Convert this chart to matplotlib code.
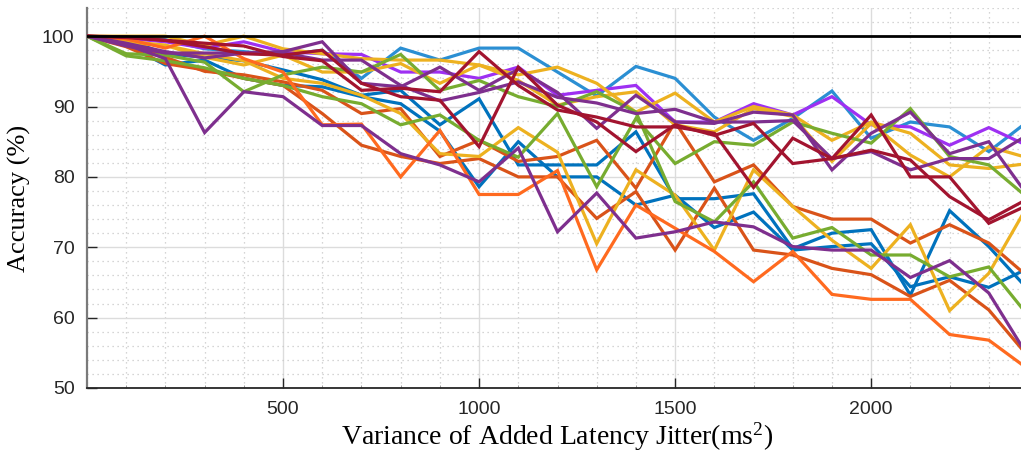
import matplotlib
matplotlib.use("Agg")
import matplotlib.pyplot as plt
from matplotlib.ticker import MultipleLocator

plt.rcParams["mathtext.fontset"] = "custom"
plt.rcParams["mathtext.rm"] = "Liberation Serif"
plt.rcParams["mathtext.it"] = "Liberation Serif:italic"

# Jitter variance levels (ms^2)
variance = list(range(0, 2401, 100))

# Accuracy (%) per run
light_blue = [100, 99.8, 99.5, 98.2, 97.8, 97.3, 98.0, 94.0, 98.3, 96.6, 98.3, 98.3, 94.9, 91.5, 95.7, 94.0, 88.5, 85.2, 88.3, 92.2, 85.5, 87.8, 87.1, 83.6, 87.9]
bright_purple = [100, 99.7, 99.2, 98.3, 99.2, 97.8, 97.5, 97.4, 94.9, 94.9, 94.0, 95.6, 91.6, 92.3, 93.0, 87.8, 87.8, 90.4, 88.8, 91.4, 87.4, 87.1, 84.5, 87.0, 84.4]
blue_a = [100, 99.5, 97.5, 97.0, 96.5, 95.2, 93.8, 91.6, 92.3, 87.4, 91.1, 81.7, 81.7, 81.7, 86.4, 76.9, 76.9, 77.6, 69.8, 72.0, 72.5, 63.2, 75.2, 70.1, 64.0]
blue_b = [100, 98.8, 95.9, 96.6, 94.0, 93.0, 92.8, 91.4, 90.4, 86.5, 78.6, 85.0, 80.0, 80.0, 76.0, 77.4, 72.8, 75.0, 69.6, 70.1, 70.5, 64.4, 65.8, 64.3, 67.0]
purple_a = [100, 98.8, 96.8, 86.3, 92.1, 91.4, 87.3, 87.3, 83.3, 81.7, 79.3, 84.1, 72.2, 77.7, 71.3, 72.2, 73.6, 72.9, 70.1, 69.6, 69.6, 65.7, 68.1, 63.5, 54.5]
purple_b = [100, 99.0, 97.8, 96.9, 97.6, 97.8, 99.2, 93.3, 92.8, 95.6, 92.3, 95.3, 92.0, 86.9, 91.6, 87.8, 87.6, 89.2, 88.8, 81.0, 86.2, 89.2, 83.3, 85.0, 77.3]
purple_c = [100, 98.6, 97.6, 97.6, 97.6, 97.6, 96.6, 96.6, 93.0, 90.8, 92.0, 93.5, 91.3, 90.5, 89.0, 89.6, 87.8, 87.8, 88.0, 82.6, 83.6, 81.0, 82.6, 82.6, 86.0]
darkred_a = [100, 99.8, 99.4, 99.0, 98.6, 97.1, 96.5, 92.3, 92.6, 92.1, 97.8, 93.0, 89.5, 88.5, 87.1, 87.1, 86.2, 78.5, 85.5, 82.6, 88.8, 80.0, 80.0, 73.4, 76.0]
darkred_b = [100, 99.9, 99.4, 98.5, 97.5, 97.3, 98.0, 93.3, 91.4, 90.9, 84.3, 95.6, 90.2, 87.8, 83.6, 87.4, 85.9, 87.6, 81.9, 82.6, 83.8, 82.4, 77.2, 73.9, 76.9]
green_a = [100, 97.2, 96.5, 95.5, 94.0, 93.0, 91.4, 90.4, 87.4, 88.8, 85.2, 82.8, 89.0, 78.6, 88.3, 81.9, 85.0, 84.5, 87.8, 86.2, 84.8, 89.7, 82.9, 81.7, 77.0]
green_b = [100, 97.5, 97.3, 96.3, 92.1, 94.5, 95.6, 94.9, 97.4, 92.3, 93.7, 91.4, 90.0, 92.1, 89.2, 76.5, 73.6, 79.3, 71.3, 72.8, 68.9, 68.9, 65.8, 67.2, 60.3]
yellow_a = [100, 99.3, 98.7, 97.5, 96.5, 94.0, 93.3, 91.6, 89.0, 83.3, 82.9, 87.0, 83.5, 70.5, 81.0, 77.4, 69.6, 81.0, 75.8, 71.0, 67.0, 73.2, 61.0, 66.3, 76.0]
yellow_b = [100, 100, 100, 98.7, 100, 98.2, 97.5, 96.8, 96.6, 96.6, 95.9, 94.5, 95.6, 93.3, 89.2, 91.9, 87.8, 90.0, 88.8, 85.2, 87.8, 86.2, 81.7, 81.2, 81.9]
yellow_c = [100, 99.0, 98.7, 97.0, 95.9, 97.3, 94.9, 94.9, 96.1, 93.3, 95.9, 93.7, 90.2, 91.4, 92.1, 87.4, 86.4, 89.7, 88.6, 82.2, 87.6, 83.1, 80.0, 84.3, 82.7]
orange_a = [100, 98.5, 96.1, 95.2, 94.0, 93.0, 89.0, 84.5, 82.9, 81.9, 82.6, 80.0, 80.0, 74.1, 77.9, 69.6, 78.4, 69.6, 68.9, 67.0, 66.1, 63.0, 65.3, 61.1, 54.5]
orange_b = [100, 99.0, 97.0, 95.0, 94.5, 93.5, 92.3, 89.0, 89.7, 82.9, 85.2, 82.2, 82.9, 85.2, 78.4, 87.8, 79.3, 81.7, 75.8, 74.0, 74.0, 70.6, 73.2, 70.6, 65.8]
bright_orange = [100, 99.6, 98.3, 100.0, 96.8, 94.9, 87.4, 87.5, 80.0, 86.6, 77.5, 77.5, 80.9, 66.8, 76.0, 72.7, 69.4, 65.1, 69.4, 63.3, 62.6, 62.6, 57.6, 56.8, 52.7]

runs = [
    (light_blue, "#2B8FD3"),
    (bright_purple, "#9E30F2"),
    (blue_a, "#0072BD"),
    (blue_b, "#0072BD"),
    (orange_a, "#D95319"),
    (orange_b, "#D95319"),
    (yellow_a, "#EDB120"),
    (yellow_b, "#EDB120"),
    (yellow_c, "#EDB120"),
    (green_a, "#77AC30"),
    (green_b, "#77AC30"),
    (bright_orange, "#FF6A1F"),
    (purple_a, "#7E2F8E"),
    (purple_b, "#7E2F8E"),
    (purple_c, "#7E2F8E"),
    (darkred_a, "#A2142F"),
    (darkred_b, "#A2142F"),
]

fig = plt.figure(figsize=(10.21, 4.58), dpi=100)
ax = fig.add_axes([87 / 1021, 70 / 458, 941 / 1021, 380 / 458])

for values, color in runs:
    ax.plot(variance, values, color=color, lw=2.3, solid_joinstyle="miter", zorder=3)

ax.axhline(100, color="black", lw=2.0, zorder=4)

ax.set_xlim(0, 2400)
ax.set_ylim(50, 104)
ax.set_xticks([500, 1000, 1500, 2000])
ax.set_yticks([50, 60, 70, 80, 90, 100])
ax.xaxis.set_minor_locator(MultipleLocator(100))
ax.yaxis.set_minor_locator(MultipleLocator(2))

ax.grid(which="major", color="#dcdcdc", lw=1.0, ls="-", zorder=0)
ax.grid(which="minor", color="#c8c8c8", lw=0.9, ls=(0, (1, 3)), zorder=0)
ax.set_axisbelow(True)

for side in ("top", "right"):
    ax.spines[side].set_visible(False)
ax.spines["left"].set_color("#7a7a7a")
ax.spines["left"].set_linewidth(1.6)
ax.spines["bottom"].set_color("#262626")
ax.spines["bottom"].set_linewidth(1.3)

tick_font = ["Liberation Sans", "DejaVu Sans"]
ax.tick_params(axis="both", which="major", direction="in", length=7, width=1.0,
               colors="#262626", labelsize=14, pad=9)
ax.tick_params(axis="x", which="minor", direction="in", length=2.5, width=0.6, colors="#888888")
ax.tick_params(axis="y", which="minor", length=0)
for lbl in ax.get_xticklabels() + ax.get_yticklabels():
    lbl.set_fontfamily(tick_font)

label_font = ["Liberation Serif", "DejaVu Serif"]
ax.set_ylabel("Accuracy (%)", fontsize=19, family=label_font, labelpad=8)
ax.set_xlabel(r"Variance of Added Latency Jitter(ms$^{\mathrm{2}}$)", fontsize=20,
              family=label_font, labelpad=2)

fig.savefig("out.png", dpi=100)
